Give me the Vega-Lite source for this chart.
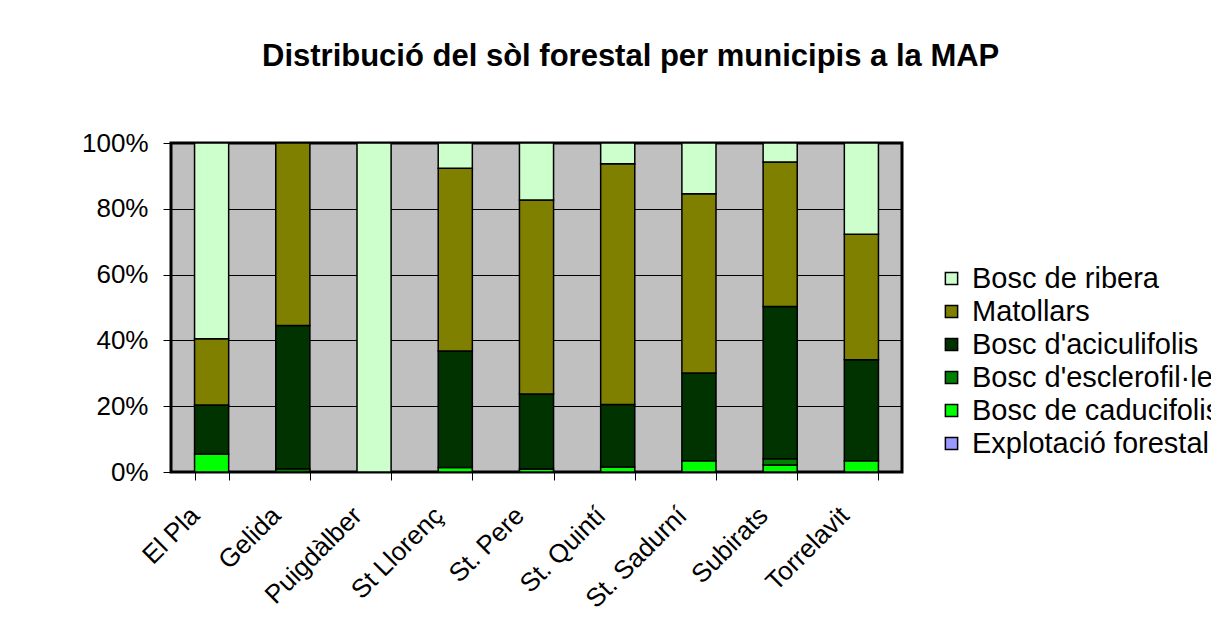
{
  "$schema": "https://vega.github.io/schema/vega-lite/v6.json",
  "autosize": {"type": "none"},
  "padding": {"left": 171, "top": 143, "right": 309, "bottom": 148},
  "width": 731,
  "height": 329,
  "background": "white",
  "title": {
    "text": "Distribució del sòl forestal per municipis a la MAP",
    "font": "Liberation Sans",
    "fontSize": 31,
    "fontWeight": "bold",
    "color": "black",
    "anchor": "start",
    "frame": "group",
    "limit": 1200,
    "dx": 91,
    "offset": 57
  },
  "config": {
    "view": {"fill": "#C0C0C0", "stroke": "black", "strokeWidth": 3},
    "font": "Liberation Sans"
  },
  "data": {
    "values": [
      {"municipi": "El Pla", "tipus": "Bosc de caducifolis", "ordre": 1, "valor": 5.5},
      {"municipi": "El Pla", "tipus": "Bosc d'aciculifolis", "ordre": 3, "valor": 14.9},
      {"municipi": "El Pla", "tipus": "Matollars", "ordre": 4, "valor": 20.1},
      {"municipi": "El Pla", "tipus": "Bosc de ribera", "ordre": 5, "valor": 59.5},
      {"municipi": "Gelida", "tipus": "Bosc d'esclerofil·les", "ordre": 2, "valor": 1.0},
      {"municipi": "Gelida", "tipus": "Bosc d'aciculifolis", "ordre": 3, "valor": 43.5},
      {"municipi": "Gelida", "tipus": "Matollars", "ordre": 4, "valor": 55.5},
      {"municipi": "Puigdàlber", "tipus": "Explotació forestal", "ordre": 0, "valor": 0},
      {"municipi": "Puigdàlber", "tipus": "Bosc de ribera", "ordre": 5, "valor": 100},
      {"municipi": "St Llorenç", "tipus": "Bosc de caducifolis", "ordre": 1, "valor": 1.4},
      {"municipi": "St Llorenç", "tipus": "Bosc d'aciculifolis", "ordre": 3, "valor": 35.4},
      {"municipi": "St Llorenç", "tipus": "Matollars", "ordre": 4, "valor": 55.5},
      {"municipi": "St Llorenç", "tipus": "Bosc de ribera", "ordre": 5, "valor": 7.7},
      {"municipi": "St. Pere", "tipus": "Bosc de caducifolis", "ordre": 1, "valor": 0.9},
      {"municipi": "St. Pere", "tipus": "Bosc d'aciculifolis", "ordre": 3, "valor": 22.8},
      {"municipi": "St. Pere", "tipus": "Matollars", "ordre": 4, "valor": 59.0},
      {"municipi": "St. Pere", "tipus": "Bosc de ribera", "ordre": 5, "valor": 17.3},
      {"municipi": "St. Quintí", "tipus": "Bosc de caducifolis", "ordre": 1, "valor": 1.5},
      {"municipi": "St. Quintí", "tipus": "Bosc d'aciculifolis", "ordre": 3, "valor": 19.0},
      {"municipi": "St. Quintí", "tipus": "Matollars", "ordre": 4, "valor": 73.2},
      {"municipi": "St. Quintí", "tipus": "Bosc de ribera", "ordre": 5, "valor": 6.3},
      {"municipi": "St. Sadurní", "tipus": "Bosc de caducifolis", "ordre": 1, "valor": 3.4},
      {"municipi": "St. Sadurní", "tipus": "Bosc d'aciculifolis", "ordre": 3, "valor": 26.7},
      {"municipi": "St. Sadurní", "tipus": "Matollars", "ordre": 4, "valor": 54.5},
      {"municipi": "St. Sadurní", "tipus": "Bosc de ribera", "ordre": 5, "valor": 15.4},
      {"municipi": "Subirats", "tipus": "Bosc de caducifolis", "ordre": 1, "valor": 2.1},
      {"municipi": "Subirats", "tipus": "Bosc d'esclerofil·les", "ordre": 2, "valor": 1.9},
      {"municipi": "Subirats", "tipus": "Bosc d'aciculifolis", "ordre": 3, "valor": 46.3},
      {"municipi": "Subirats", "tipus": "Matollars", "ordre": 4, "valor": 43.9},
      {"municipi": "Subirats", "tipus": "Bosc de ribera", "ordre": 5, "valor": 5.8},
      {"municipi": "Torrelavit", "tipus": "Bosc de caducifolis", "ordre": 1, "valor": 3.4},
      {"municipi": "Torrelavit", "tipus": "Bosc d'aciculifolis", "ordre": 3, "valor": 30.7},
      {"municipi": "Torrelavit", "tipus": "Matollars", "ordre": 4, "valor": 38.2},
      {"municipi": "Torrelavit", "tipus": "Bosc de ribera", "ordre": 5, "valor": 27.7}
    ]
  },
  "mark": {"type": "bar", "stroke": "black", "strokeWidth": 1.5},
  "encoding": {
    "x": {
      "field": "municipi",
      "type": "nominal",
      "sort": ["El Pla", "Gelida", "Puigdàlber", "St Llorenç", "St. Pere", "St. Quintí", "St. Sadurní", "Subirats", "Torrelavit"],
      "scale": {"paddingInner": 0.58, "paddingOuter": 0.29},
      "axis": {
        "title": null,
        "labelAngle": -45,
        "labelFontSize": 26,
        "labelColor": "black",
        "labelFont": "Liberation Sans",
        "labelPadding": 22,
        "labelOffset": -26,
        "tickSize": 8,
        "tickColor": "black",
        "tickWidth": 1,
        "tickBand": "extent",
        "domain": false,
        "grid": false
      }
    },
    "y": {
      "field": "valor",
      "type": "quantitative",
      "stack": "normalize",
      "scale": {"domain": [0, 1]},
      "axis": {
        "title": null,
        "values": [0, 0.2, 0.4, 0.6, 0.8, 1],
        "format": ".0%",
        "labelFontSize": 26,
        "labelColor": "black",
        "labelFont": "Liberation Sans",
        "labelPadding": 15,
        "tickSize": 8,
        "tickColor": "black",
        "tickWidth": 1,
        "domain": false,
        "grid": true,
        "gridColor": "black",
        "gridWidth": 1.2,
        "gridOpacity": 1
      }
    },
    "color": {
      "field": "tipus",
      "type": "nominal",
      "scale": {
        "domain": ["Bosc de ribera", "Matollars", "Bosc d'aciculifolis", "Bosc d'esclerofil·les", "Bosc de caducifolis", "Explotació forestal"],
        "range": ["#CCFFCC", "#808000", "#003300", "#008000", "#00FF00", "#9999FF"]
      },
      "legend": {
        "title": null,
        "orient": "none",
        "legendX": 766,
        "legendY": 121,
        "symbolType": "square",
        "symbolSize": 150,
        "symbolStrokeColor": "black",
        "symbolStrokeWidth": 1.5,
        "labelFontSize": 29,
        "labelFont": "Liberation Sans",
        "labelColor": "black",
        "labelOffset": 6,
        "rowPadding": 3,
        "labelLimit": 400
      }
    },
    "order": {"field": "ordre", "type": "quantitative", "sort": "ascending"}
  }
}
